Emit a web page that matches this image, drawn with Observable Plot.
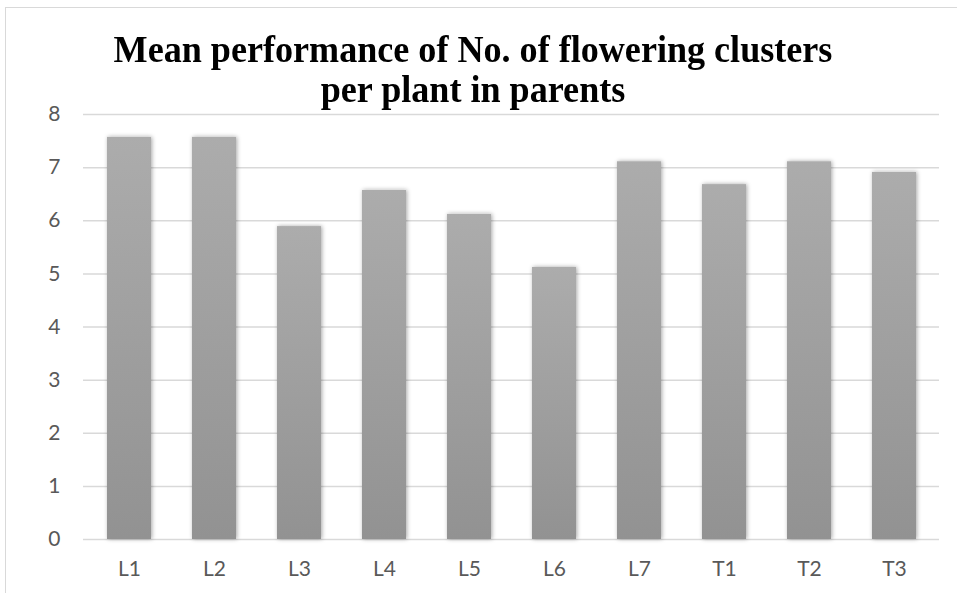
<!DOCTYPE html>
<html>
<head>
<meta charset="utf-8">
<script src="https://cdn.jsdelivr.net/npm/d3@7"></script>
<script src="https://cdn.jsdelivr.net/npm/@observablehq/plot@0.6"></script>
<style>
  html, body { margin: 0; padding: 0; background: #fff; }
  #wrap { position: relative; width: 957px; height: 593px; overflow: hidden; background: #fff; }
  #frame { position: absolute; left: 5px; top: 7px; width: 1000px; height: 700px;
           border-left: 1px solid #d9d9d9; border-top: 1px solid #d9d9d9; }
  #title { position: absolute; left: 0; top: 0; width: 946px; text-align: center; z-index: 2;
           font-family: "Liberation Serif", "Times New Roman", serif; font-weight: bold;
           font-size: 38px; line-height: 40px; color: #000; padding-top: 29px;
           transform: scaleX(0.95); transform-origin: 473px 0; }
  #chart { position: absolute; left: 0; top: 0; }
</style>
</head>
<body>
<div id="wrap">
  <div id="frame"></div>
  <div id="chart"></div>
  <div id="title"><span id="t1">Mean performance of No. of flowering clusters</span><br><span id="t2">per plant in parents</span></div>
</div>
<script>
const categories = ["L1", "L2", "L3", "L4", "L5", "L6", "L7", "T1", "T2", "T3"];
const values = [7.57, 7.57, 5.89, 6.57, 6.12, 5.12, 7.11, 6.68, 7.11, 6.91];
const yTicks = [0, 1, 2, 3, 4, 5, 6, 7, 8];

const data = categories.map((c, i) => ({cat: c, value: values[i]}));

const chart = Plot.plot({
  width: 957,
  height: 593,
  marginLeft: 83,
  marginRight: 18,
  marginTop: 114,
  marginBottom: 54,
  style: {background: "transparent", fontFamily: "Lato, 'Open Sans', sans-serif", fontSize: "21px", color: "#595959"},
  x: {domain: categories, paddingInner: 0.486, paddingOuter: 0.243, label: null},
  y: {domain: [0, 8], label: null},
  marks: [
    Plot.ruleY(yTicks, {stroke: "#d9d9d9", strokeWidth: 1.5}),
    Plot.barY(data, {x: "cat", y: "value", fill: "url(#barGrad)"}),
    Plot.axisX({tickSize: 0, tickPadding: 22, fontSize: 21, fill: "#595959", label: null}),
    Plot.axisY({ticks: yTicks, tickSize: 0, tickPadding: 23, fontSize: 21, fill: "#595959", label: null})
  ]
});

const svg = d3.select(chart);
const defs = svg.insert("defs", ":first-child");
const grad = defs.append("linearGradient").attr("id", "barGrad")
  .attr("x1", 0).attr("y1", 0).attr("x2", 0).attr("y2", 1);
grad.append("stop").attr("offset", "0%").attr("stop-color", "#acacac");
grad.append("stop").attr("offset", "100%").attr("stop-color", "#929292");
const filt = defs.append("filter").attr("id", "barShadow")
  .attr("x", "-30%").attr("y", "-10%").attr("width", "160%").attr("height", "120%");
filt.append("feDropShadow").attr("dx", 1).attr("dy", 0).attr("stdDeviation", 2.2)
  .attr("flood-color", "#000").attr("flood-opacity", 0.35);
svg.selectAll("g[aria-label='bar'] rect").attr("filter", "url(#barShadow)");

document.getElementById("chart").appendChild(chart);
</script>
</body>
</html>
